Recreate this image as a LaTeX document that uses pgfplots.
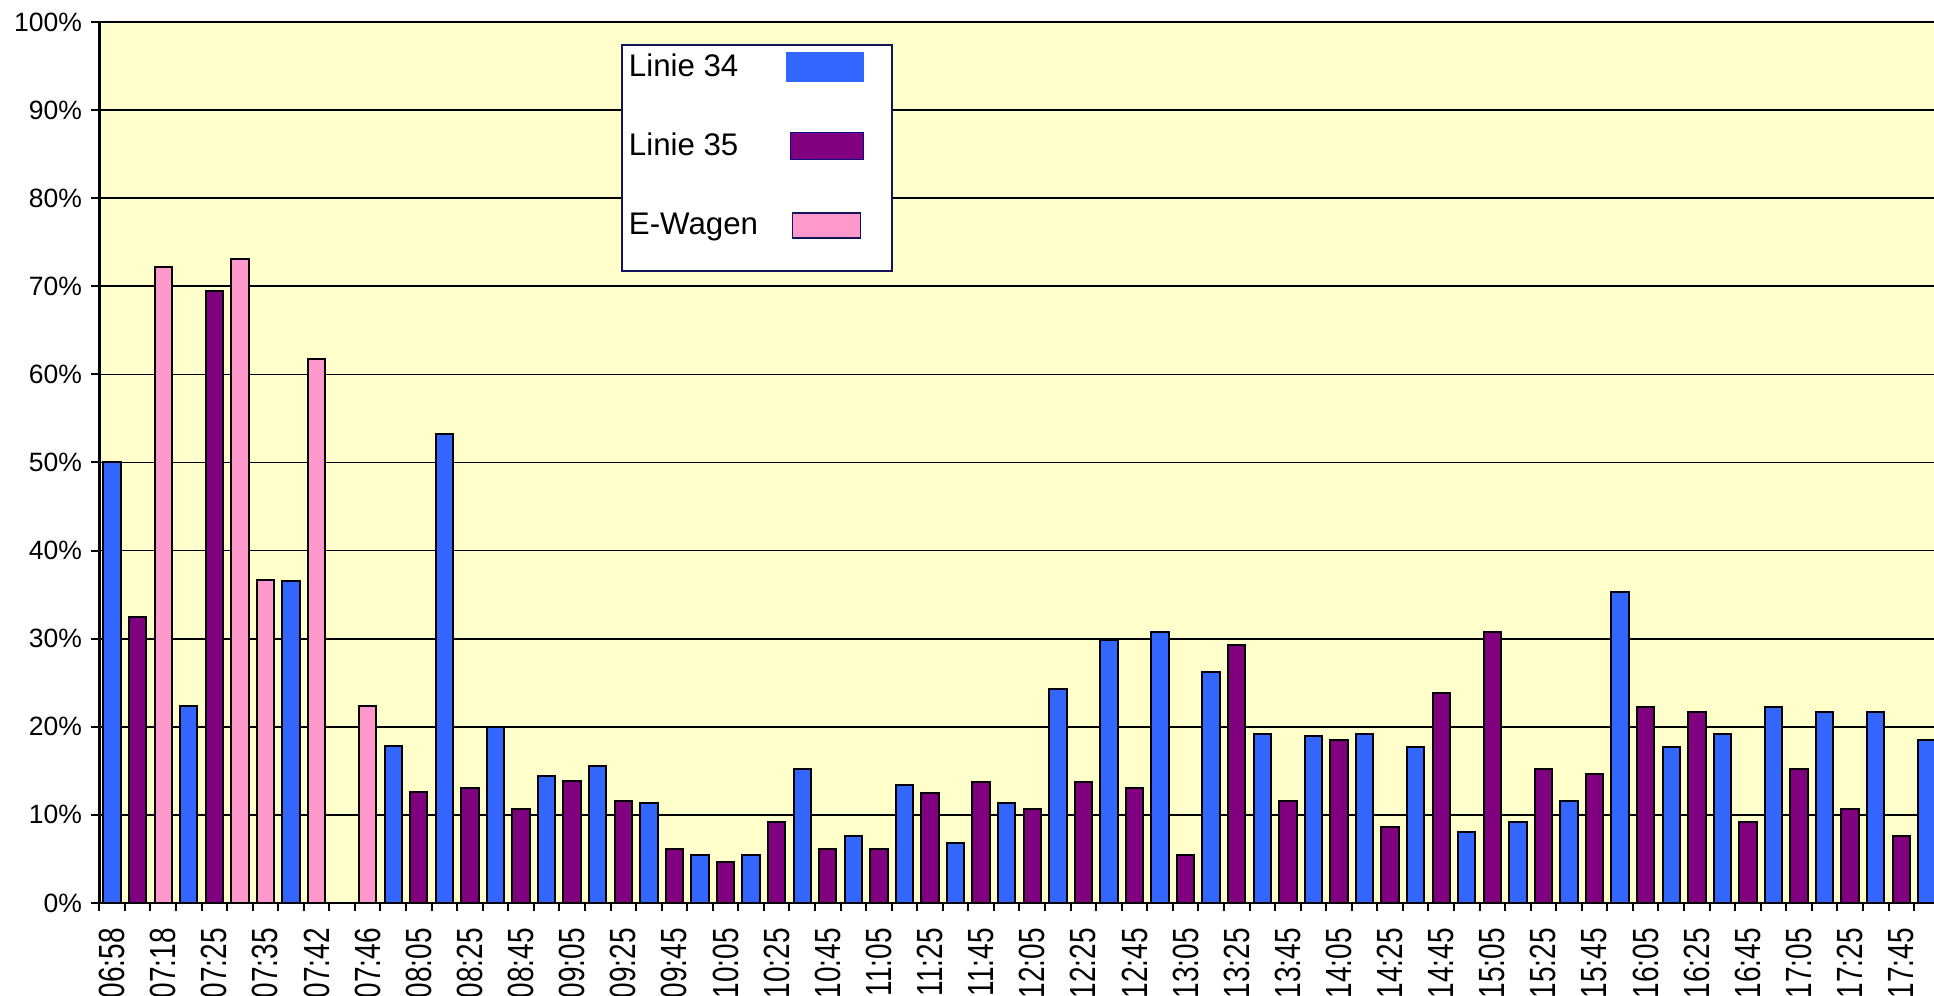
\documentclass[border=0pt]{standalone}
\usepackage{fontspec}
\setmainfont{Liberation Sans}
\usepackage{graphicx}
\usepackage{pgfplots}
\pgfplotsset{compat=1.18}
\definecolor{bl}{RGB}{51,102,255}
\definecolor{pu}{RGB}{128,0,128}
\definecolor{pk}{RGB}{255,153,204}
\definecolor{bg}{RGB}{255,255,204}
\definecolor{nv}{RGB}{20,20,90}
\newcommand\xl[1]{\scalebox{1}[1.3]{#1}}
\begin{document}
\begin{tikzpicture}
\begin{axis}[
  at={(0,0)}, anchor=south west,
  scale only axis, width=733.9pt, height=352.4pt,
  xmin=-0.5, xmax=71.28, ymin=0, ymax=100,
  axis background/.style={fill=bg},
  axis x line*=bottom, axis y line*=left,
  every outer x axis line/.append style={-},
  every outer y axis line/.append style={-},
  axis line style={line width=1.1pt,-},
  tick align=outside, major tick length=3.4pt,
  tick style={black, line width=0.8pt},
  xtick={-0.5,0.5,...,70.5}, xticklabels={},
  extra x ticks={0,2,...,70},
  extra x tick labels={\xl{06:58},\xl{07:18},\xl{07:25},\xl{07:35},\xl{07:42},\xl{07:46},\xl{08:05},\xl{08:25},\xl{08:45},\xl{09:05},\xl{09:25},\xl{09:45},\xl{10:05},\xl{10:25},\xl{10:45},\xl{11:05},\xl{11:25},\xl{11:45},\xl{12:05},\xl{12:25},\xl{12:45},\xl{13:05},\xl{13:25},\xl{13:45},\xl{14:05},\xl{14:25},\xl{14:45},\xl{15:05},\xl{15:25},\xl{15:45},\xl{16:05},\xl{16:25},\xl{16:45},\xl{17:05},\xl{17:25},\xl{17:45}},
  extra x tick style={major tick length=0pt, grid=none, xticklabel shift=6.6pt,
    xticklabel style={rotate=90, anchor=east, font=\fontsize{11.2}{13}\selectfont}},
  ytick={0,10,...,100},
  yticklabels={0\%,10\%,20\%,30\%,40\%,50\%,60\%,70\%,80\%,90\%,100\%},
  yticklabel style={font=\fontsize{10.6}{12}\selectfont},
  ymajorgrids, grid style={black, line width=0.7pt},
  legend plot pos=right, legend cell align=left,
  legend style={font=\fontsize{12.5}{14}\selectfont, draw=nv, line width=0.8pt, fill=white,
    inner xsep=2.9pt, inner ysep=2.6pt, row sep=20pt, column sep=0pt,
    nodes={inner sep=0pt},
    at={(0.2842,0.975)}, anchor=north west},
]
\addplot[ybar, bar width=0.68, bar shift=0pt, fill=bl, draw=black, line width=0.8pt,
  legend image code/.code={\draw[fill=bl, draw=bl, line width=0.5pt] (0pt,-5.8pt) rectangle (30.8pt,5.8pt); \path (38.7pt,0pt);}]
  coordinates {(0,50) (3,22.4) (7,36.5) (11,17.8) (13,53.2) (15,20) (17,14.4) (19,15.6) (21,11.3) (23,5.5) (25,5.5) (27,15.2) (29,7.6) (31,13.4) (33,6.8) (35,11.3) (37,24.3) (39,29.8) (41,30.8) (43,26.2) (45,19.2) (47,18.9) (49,19.2) (51,17.7) (53,8.0) (55,9.2) (57,11.6) (59,35.3) (61,17.7) (63,19.2) (65,22.3) (67,21.7) (69,21.7) (71,18.5)};
\addlegendentry{\makebox[62.7pt][l]{Linie 34}}
\addplot[ybar, bar width=0.68, bar shift=0pt, fill=pu, draw=black, line width=0.8pt,
  legend image code/.code={\draw[fill=pu, draw=nv!70!blue, line width=0.5pt] (1.5pt,-5.4pt) rectangle (30.8pt,5.4pt); \path (38.7pt,0pt);}]
  coordinates {(1,32.5) (4,69.5) (12,12.6) (14,13.1) (16,10.7) (18,13.8) (20,11.6) (22,6.1) (24,4.6) (26,9.2) (28,6.1) (30,6.1) (32,12.5) (34,13.7) (36,10.7) (38,13.7) (40,13.1) (42,5.5) (44,29.3) (46,11.6) (48,18.5) (50,8.6) (52,23.8) (54,30.8) (56,15.2) (58,14.6) (60,22.3) (62,21.7) (64,9.2) (66,15.2) (68,10.7) (70,7.6)};
\addlegendentry{\makebox[62.7pt][l]{Linie 35}}
\addplot[ybar, bar width=0.68, bar shift=0pt, fill=pk, draw=black, line width=0.8pt,
  legend image code/.code={\draw[fill=pk, draw=nv, line width=0.5pt] (2.2pt,-5pt) rectangle (29.5pt,5pt); \path (38.7pt,0pt) (0pt,-15pt) (0pt,5.8pt);}]
  coordinates {(2,72.2) (5,73.1) (6,36.7) (8,61.7) (10,22.4)};
\addlegendentry{\makebox[62.7pt][l]{E-Wagen}}
\end{axis}
\pgfresetboundingbox
\path (-39.72pt,-37.2pt) rectangle (733.9pt,361.2pt);
\end{tikzpicture}
\end{document}
